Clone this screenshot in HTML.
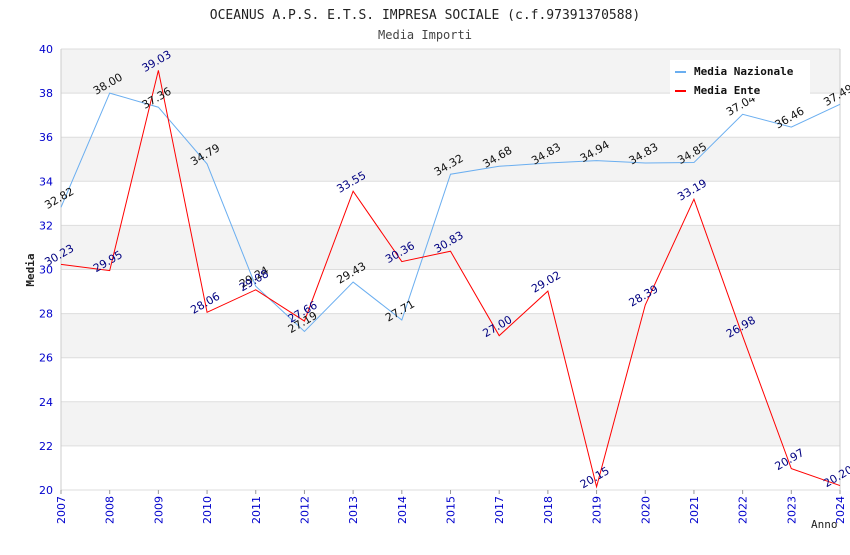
<!DOCTYPE html>
<html><head><meta charset="utf-8"><style>
body{margin:0;background:#fff;width:850px;height:550px;overflow:hidden}
svg text{font-family:"DejaVu Sans","Liberation Sans",sans-serif}
svg text.mono{font-family:"DejaVu Sans Mono","Liberation Mono",monospace}
</style></head><body>
<svg id="c" width="850" height="550">
<text class="mono" x="425" y="19" text-anchor="middle" font-size="13" fill="#222">OCEANUS A.P.S. E.T.S. IMPRESA SOCIALE (c.f.97391370588)</text>
<text class="mono" x="425" y="39" text-anchor="middle" font-size="12" fill="#444">Media Importi</text>
<text class="mono" transform="translate(34,270) rotate(-90)" text-anchor="middle" font-size="11" font-weight="bold" fill="#222">Media</text>
<text class="mono" x="811" y="528" font-size="11" fill="#222">Anno</text>
<g id="grid"></g><g id="lines"></g><g id="labels"></g>
<g>
<rect x="670" y="60" width="140" height="38" fill="#fff"/>
<rect x="675" y="71" width="11" height="2" fill="#6aaef0"/>
<text class="mono" x="694" y="75" font-size="11" font-weight="bold" fill="#111">Media Nazionale</text>
<rect x="675" y="90" width="11" height="2" fill="#ff0000"/>
<text class="mono" x="694" y="94" font-size="11" font-weight="bold" fill="#111">Media Ente</text>
</g>
</svg>
<script>
const categories=["2007","2008","2009","2010","2011","2012","2013","2014","2015","2017","2018","2019","2020","2021","2022","2023","2024"];
const nazionale=[32.82,38.00,37.36,34.79,29.24,27.19,29.43,27.71,34.32,34.68,34.83,34.94,34.83,34.85,37.04,36.46,37.49];
const ente=[30.23,29.95,39.03,28.06,29.08,27.66,33.55,30.36,30.83,27.00,29.02,20.15,28.39,33.19,26.98,20.97,20.20];
const yTicks=[20,22,24,26,28,30,32,34,36,38,40];
const NS="http://www.w3.org/2000/svg";
const L=61,R=840,T=49,B=490,ymin=20,ymax=40;
const x=i=>L+i*(R-L)/(categories.length-1);
const y=v=>B-(v-ymin)*(B-T)/(ymax-ymin);
function mk(tag,a,parent){const e=document.createElementNS(NS,tag);for(const k in a)e.setAttribute(k,a[k]);parent.appendChild(e);return e;}
const grid=document.getElementById('grid'),lines=document.getElementById('lines'),labels=document.getElementById('labels');
for(let i=0;i<yTicks.length-1;i++){
 if((yTicks.length-2-i)%2===0){const r=mk('rect',{x:L,y:y(yTicks[i+1]),width:R-L,height:y(yTicks[i])-y(yTicks[i+1]),fill:'#f3f3f3'},grid);
 
 }
}
yTicks.forEach(v=>{
 const l=mk('line',{x1:L,x2:R,y1:y(v),y2:y(v),stroke:'#ddd'},grid);
 
 
 const t=mk('text',{x:L-8,y:y(v)+4,'text-anchor':'end','font-size':11,fill:'#0000cc'},grid);t.textContent=v;
 
 
});
mk('line',{x1:L,x2:L,y1:T,y2:B,stroke:'#ccc'},grid);
mk('line',{x1:R,x2:R,y1:T,y2:B,stroke:'#ccc'},grid);
categories.forEach((c,i)=>{
 const l=mk('line',{x1:x(i),x2:x(i),y1:B,y2:B+4,stroke:'#999'},grid);
 
 
 const t=mk('text',{transform:`translate(${x(i)+4},${B+6}) rotate(-90)`,'text-anchor':'end','font-size':11,fill:'#0000cc'},grid);t.textContent=c;
 
 
});
function series(vals,color,lblColor,name){
 const p=mk('polyline',{points:vals.map((v,i)=>x(i)+','+y(v)).join(' '),fill:'none',stroke:color,'stroke-width':1},lines);
 
 
 vals.forEach((v,i)=>{
  const t=mk('text',{transform:`translate(${x(i)},${y(v)-6}) rotate(-30)`,'text-anchor':'middle','font-size':11,fill:lblColor},labels);
  t.textContent=v.toFixed(2);
  
  
 });
}
series(nazionale,'#6aaef0','#111','nazionale');
series(ente,'#ff0000','#000080','ente');
</script>
</body></html>
